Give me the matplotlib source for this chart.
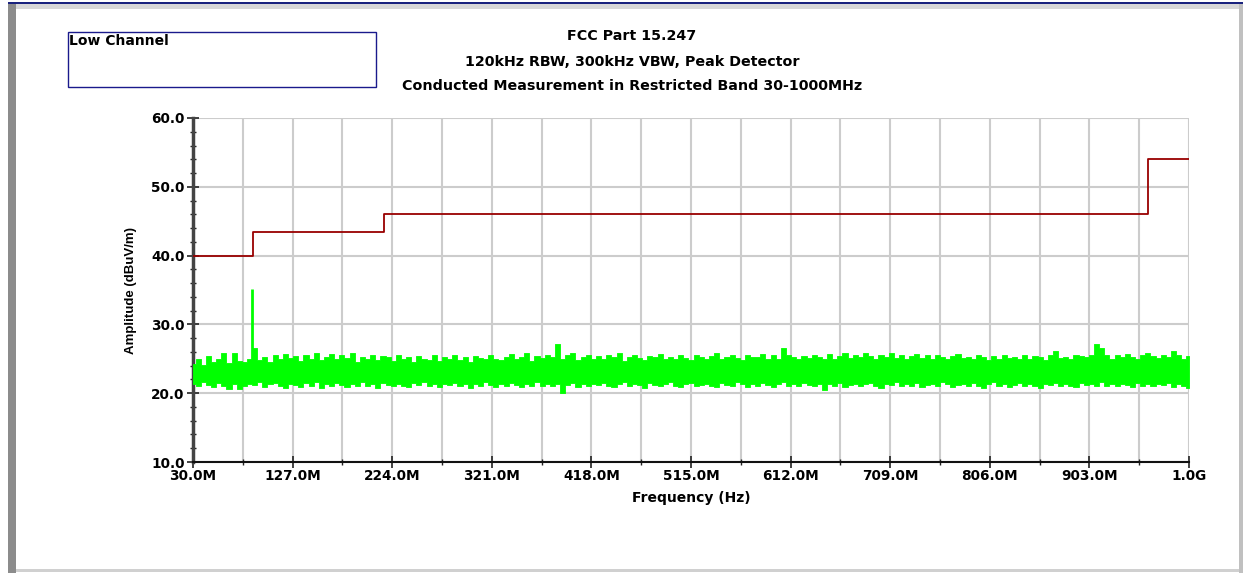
import numpy as np
import matplotlib
matplotlib.use("Agg")
import matplotlib.pyplot as plt
from matplotlib.patches import Rectangle
from matplotlib.ticker import MultipleLocator, FixedLocator

# ---------------- data ----------------
limit_freq_mhz = [30, 88, 88, 216, 216, 960, 960, 1000]
limit_dbuv = [40.0, 40.0, 43.5, 43.5, 46.0, 46.0, 54.0, 54.0]

trace_start_mhz = 30
trace_step_mhz = 5
trace_upper = [
    24.3, 25.0, 24.1, 25.4, 24.6, 24.9, 25.8, 24.4, 25.9, 24.7,
    24.5, 25.0, 26.6, 24.8, 25.2, 24.6, 25.5, 24.9, 25.7, 25.1,
    25.4, 24.7, 25.6, 25.0, 25.9, 24.8, 25.3, 25.7, 24.9, 25.5,
    25.1, 25.8, 24.6, 25.3, 25.0, 25.6, 24.8, 25.4, 25.2, 24.7,
    25.5, 24.9, 25.2, 24.6, 25.4, 25.0, 24.8, 25.6, 24.7, 25.3,
    25.0, 25.5, 24.8, 25.2, 24.6, 25.4, 25.1, 24.9, 25.6, 25.0,
    24.8, 25.3, 25.7, 24.9, 25.2, 25.8, 24.7, 25.4, 25.1, 25.6,
    25.2, 27.2, 25.0, 25.5, 25.9, 24.8, 25.3, 25.6, 25.0, 25.4,
    24.9, 25.5, 25.2, 25.8, 24.7, 25.3, 25.6, 25.1, 24.8, 25.4,
    25.2, 25.7, 24.9, 25.3, 25.0, 25.6, 25.1, 24.8, 25.5, 25.2,
    25.0, 25.4, 25.8, 24.9, 25.3, 25.6, 25.1, 24.8, 25.5, 25.2,
    25.3, 25.7, 25.0, 25.5, 24.9, 26.6, 25.6, 25.2, 24.9, 25.4,
    25.1, 25.6, 25.3, 25.0, 25.7, 24.9, 25.4, 25.8, 25.1, 25.5,
    25.2, 25.9, 25.4, 25.0, 25.6, 25.3, 25.8, 25.1, 25.5, 25.0,
    25.4, 25.7, 25.1, 25.5, 24.9, 25.6, 25.2, 25.0, 25.4, 25.7,
    25.1, 25.3, 24.9, 25.6, 25.2, 24.8, 25.4, 25.0, 25.5, 25.1,
    25.3, 24.9, 25.6, 25.0, 25.4, 25.2, 24.8, 25.5, 26.2, 25.1,
    25.3, 25.0, 25.6, 25.4, 25.2, 25.5, 27.1, 26.5, 25.6, 25.0,
    25.5, 25.2, 25.7, 25.3, 25.0, 25.6, 25.8, 25.4, 25.1, 25.6,
    25.3, 26.2, 25.5, 25.0, 25.4,
]
trace_lower = [
    21.4, 21.0, 21.6, 21.2, 20.9, 21.5, 21.1, 20.6, 21.3, 20.6,
    21.0, 21.4, 21.2, 21.6, 20.9, 21.3, 21.5, 21.1, 20.8, 21.4,
    21.2, 20.9, 21.5, 21.1, 21.6, 20.8, 21.3, 21.0, 21.5, 21.2,
    20.9, 21.4, 21.1, 21.6, 21.0, 21.3, 20.8, 21.5, 21.2, 21.0,
    21.4, 21.1, 20.9, 21.5, 21.2, 21.6, 21.0, 21.3, 20.9, 21.4,
    21.2, 21.5, 21.0, 21.3, 20.8, 21.4, 21.1, 21.6, 21.2, 20.9,
    21.3, 21.0, 21.5, 21.2, 20.9, 21.4, 21.1, 21.6, 21.0, 21.3,
    21.1, 21.4, 20.1, 21.2, 21.5, 20.9, 21.3, 21.0, 21.4, 21.2,
    21.5, 21.1, 20.9, 21.3, 21.6, 21.0, 21.4, 21.2, 20.8, 21.5,
    21.2, 21.0, 21.4, 21.6, 21.1, 20.9, 21.3, 21.5, 21.0, 21.2,
    21.4, 21.1, 20.9, 21.5, 21.2, 21.0, 21.6, 21.3, 20.9, 21.4,
    21.1, 21.5, 21.2, 20.9, 21.4, 21.6, 21.1, 21.3, 21.0, 21.5,
    21.2, 21.0, 21.4, 20.4, 21.3, 21.1, 21.5, 20.9, 21.2, 21.4,
    21.0, 21.3, 21.5, 21.1, 20.8, 21.4, 21.2, 21.6, 21.0, 21.3,
    21.1, 21.5, 20.9, 21.2, 21.4, 21.0, 21.6, 21.3, 20.9, 21.2,
    21.4, 21.1, 21.5, 21.0, 20.8, 21.3, 21.6, 21.1, 21.4, 20.9,
    21.2, 21.5, 21.0, 21.3, 21.1, 20.7, 21.4, 21.2, 21.5, 21.0,
    21.3, 21.1, 20.9, 21.5, 21.2, 21.4, 21.0, 21.6, 21.1, 21.3,
    21.0, 21.4, 21.2, 20.9, 21.5, 21.1, 21.3, 21.0, 21.4, 21.2,
    21.5, 20.9, 21.3, 21.1, 20.8,
]
spike_freq_mhz = [87.0]
spike_dbuv = [35.2]

x_tick_mhz = [30, 127, 224, 321, 418, 515, 612, 709, 806, 903, 1000]
x_tick_labels = ["30.0M", "127.0M", "224.0M", "321.0M", "418.0M", "515.0M",
                 "612.0M", "709.0M", "806.0M", "903.0M", "1.0G"]
y_ticks = [10, 20, 30, 40, 50, 60]
y_tick_labels = ["10.0", "20.0", "30.0", "40.0", "50.0", "60.0"]

title_lines = ["FCC Part 15.247",
               "120kHz RBW, 300kHz VBW, Peak Detector",
               "Conducted Measurement in Restricted Band 30-1000MHz"]

# ---------------- figure ----------------
W, H = 1243, 573
fig = plt.figure(figsize=(W / 100, H / 100), dpi=100)
fig.patch.set_facecolor("white")
FONT = "DejaVu Sans"

def fx(px):
    return px / W

def fy(py):
    return 1 - py / H

# outer frame
fig.add_artist(Rectangle((fx(8), fy(573)), fx(8), fy(4) - fy(573),
                         transform=fig.transFigure, color="#8c8c8c", lw=0))
fig.add_artist(Rectangle((fx(8), fy(4)), fx(1235), fy(3) - fy(4) + 1 / H,
                         transform=fig.transFigure, color="#1a237e", lw=0))
fig.add_artist(Rectangle((fx(16), fy(9)), fx(1223), fy(4) - fy(9),
                         transform=fig.transFigure, color="#d8d8d8", lw=0))
fig.add_artist(Rectangle((fx(1239), fy(573)), fx(4), fy(4) - fy(573),
                         transform=fig.transFigure, color="#c0c0c0", lw=0))
fig.add_artist(Rectangle((fx(16), fy(572)), fx(1223), fy(569) - fy(572),
                         transform=fig.transFigure, color="#d0d0d0", lw=0))

# Low Channel box
fig.add_artist(Rectangle((fx(68), fy(87)), fx(376 - 68), fy(32) - fy(87),
                         transform=fig.transFigure, fill=False,
                         edgecolor="#1a1a8c", lw=1.0))
fig.text(fx(69), fy(41), "Low Channel", fontsize=10, fontweight="bold",
         family=FONT, ha="left", va="center")

# titles
for ypx, line in zip([36, 62, 86], title_lines):
    fig.text(fx(632), fy(ypx), line, fontsize=10.3, fontweight="bold",
             family=FONT, ha="center", va="center")

ax = fig.add_axes([fx(193), fy(462), fx(1189 - 193), fy(118) - fy(462)])
ax.set_xlim(30, 1000)
ax.set_ylim(10, 60)

freqs = trace_start_mhz + trace_step_mhz * np.arange(len(trace_upper))
ax.fill_between(freqs, trace_lower, trace_upper, step="mid", color="#00ff00",
                lw=0.6, edgecolor="#00ff00", zorder=3)
ax.vlines(spike_freq_mhz, [23.0] * len(spike_freq_mhz), spike_dbuv,
          color="#00ff00", lw=2.0, zorder=3)

ax.plot(limit_freq_mhz, limit_dbuv, color="#990000", lw=1.3, zorder=4)

# ticks and grid
ax.set_xticks(x_tick_mhz)
ax.set_xticklabels(x_tick_labels)
ax.xaxis.set_minor_locator(FixedLocator([t + 48.5 for t in x_tick_mhz[:-1]]))
ax.set_yticks(y_ticks)
ax.set_yticklabels(y_tick_labels)
ax.yaxis.set_minor_locator(MultipleLocator(2))

ax.grid(True, which="major", color="#cccccc", lw=1.5, zorder=0)
ax.grid(True, which="minor", axis="x", color="#cccccc", lw=1.5, zorder=0)
ax.set_axisbelow(True)

for lab in ax.get_xticklabels() + ax.get_yticklabels():
    lab.set_fontweight("bold")
    lab.set_family(FONT)
    lab.set_fontsize(9.8)

ax.tick_params(axis="both", which="major", direction="inout", length=8,
               width=1.2, color="#222222", pad=2)
ax.tick_params(axis="both", which="minor", direction="inout", length=5,
               width=1.0, color="#222222")
ax.tick_params(axis="x", which="major", pad=1)

ax.spines["top"].set_visible(False)
ax.spines["right"].set_visible(False)
ax.spines["left"].set_linewidth(2.5)
ax.spines["left"].set_color("#444444")
ax.spines["bottom"].set_linewidth(1.5)
ax.spines["bottom"].set_color("#111111")

ax.set_ylabel("Amplitude (dBuV/m)", fontsize=9.5, fontweight="bold",
              family="Liberation Sans", labelpad=10)
ax.set_xlabel("Frequency (Hz)", fontsize=10, fontweight="bold",
              family=FONT, labelpad=6)

fig.savefig("out.png", dpi=100, facecolor="white")
